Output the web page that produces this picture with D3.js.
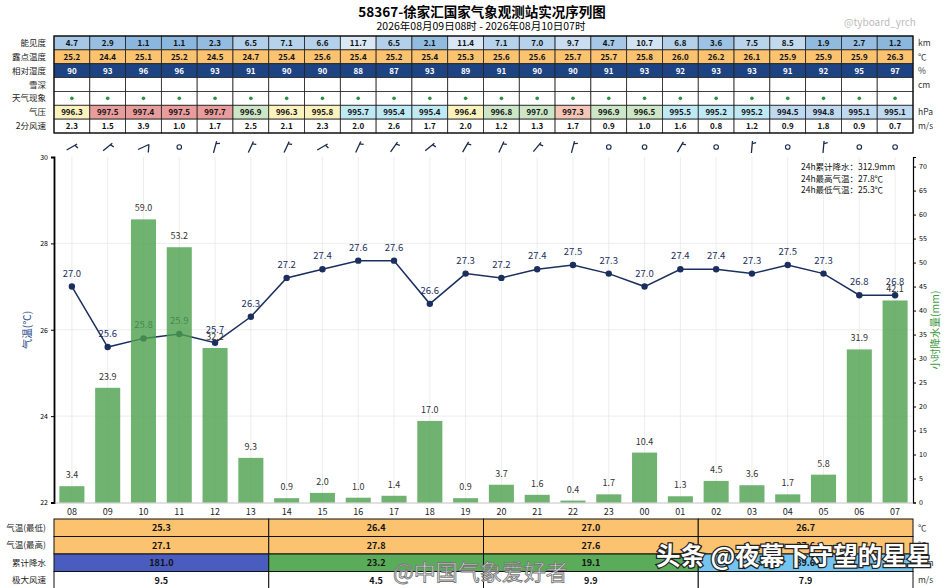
<!DOCTYPE html>
<html>
<head>
<meta charset="utf-8">
<script src="https://cdn.jsdelivr.net/npm/d3@7"></script>
<style>
  body { margin: 0; background: #fff; }
  text { font-family: "Noto Sans CJK SC", "Noto Sans", sans-serif; }
</style>
</head>
<body>
<svg id="chart" width="946" height="588"></svg>
<script>
// hourly observations, 2026-08-09 08h .. 2026-08-10 07h
const hours = ['08','09','10','11','12','13','14','15','16','17','18','19',
               '20','21','22','23','00','01','02','03','04','05','06','07']
const temp = [27.0,25.6,25.8,25.9,25.7,26.3,27.2,27.4,27.6,27.6,26.6,27.3,
              27.2,27.4,27.5,27.3,27.0,27.4,27.4,27.3,27.5,27.3,26.8,26.8]
const rain = [3.4,23.9,59.0,53.2,32.2,9.3,0.9,2.0,1.0,1.4,17.0,0.9,
              3.7,1.6,0.4,1.7,10.4,1.3,4.5,3.6,1.7,5.8,31.9,42.1]
const vis = [4.7,2.9,1.1,1.1,2.3,6.5,7.1,6.6,11.7,6.5,2.1,11.4,
             7.1,7.0,9.7,4.7,10.7,6.8,3.6,7.5,8.5,1.9,2.7,1.2]
const dew = [25.2,24.4,25.1,25.2,24.5,24.7,25.4,25.6,25.4,25.2,25.4,25.3,
             25.6,25.6,25.7,25.7,25.8,26.0,26.2,26.1,25.9,25.9,25.9,26.3]
const rh = [90,93,96,96,93,91,90,90,88,87,93,89,91,90,90,91,93,92,93,93,91,92,95,97]
const pres = [996.3,997.5,997.4,997.5,997.7,996.9,996.3,995.8,995.7,995.4,995.4,996.4,
              996.8,997.0,997.3,996.9,996.5,995.5,995.2,995.2,994.5,994.8,995.1,995.1]
const wind2 = [2.3,1.5,3.9,1.0,1.7,2.5,2.1,2.3,2.0,2.6,1.7,2.0,
               1.2,1.3,1.7,0.9,1.0,1.6,0.8,1.2,0.9,1.8,0.9,0.7]
const windDir = [60,50,65,0,15,25,25,60,25,35,50,30,25,40,15,0,0,30,0,5,0,5,0,0]

// 6-hour summaries
const groupMin = [25.3,26.4,27.0,26.7]
const groupMax = [27.1,27.8,27.6,27.6]
const groupRain = [181.0,23.2,19.1,89.6]
const groupGust = [9.5,4.5,9.9,7.9]

const svg = d3.select('#chart')
const pl = 54, pr = 913, pt = 157, pb = 502.5

let x = d3.scaleBand().domain(hours).range([pl, pr])
let bw = x.bandwidth()
let cx = (h) => x(h) + bw / 2
let yT = d3.scaleLinear().domain([22, 30]).range([pb, pt])
let yR = d3.scaleLinear().domain([0, 72]).range([pb, pt])

// title
svg.append('text').attr('x', 482).attr('y', 17).attr('text-anchor', 'middle')
    .style('font-size', '13.5px').style('font-weight', 'bold').text('58367-徐家汇国家气象观测站实况序列图')
svg.append('text').attr('x', 481).attr('y', 30).attr('text-anchor', 'middle')
    .style('font-size', '10.5px').text('2026年08月09日08时 - 2026年08月10日07时')
svg.append('text').attr('x', 880).attr('y', 26).attr('text-anchor', 'middle')
    .style('font-size', '10px').style('fill', '#bbb').text('@tyboard_yrch')

// top table
let visColor = d3.scaleLinear().domain([1, 12]).range(['#8ab6dd', '#dce9f6']).clamp(true)
let presColor = d3.scaleThreshold().domain([995.2, 995.8, 996.5, 997.2, 997.4])
    .range(['#bfd9f1', '#bfe9f4', '#fbf2bd', '#cce6c6', '#f5c5b6', '#e89c9b'])
let rows = [
    {label: '能见度', unit: 'km', vals: vis, fill: visColor, text: (v) => v.toFixed(1), col: '#111'},
    {label: '露点温度', unit: '℃', vals: dew, fill: () => '#fbc26f', text: (v) => v.toFixed(1), col: '#111'},
    {label: '相对湿度', unit: '%', vals: rh, fill: () => '#1d4383', text: (v) => v, col: '#fff'},
    {label: '雪深', unit: 'cm', vals: hours.map(() => null), fill: () => '#fff', text: () => '', col: '#111'},
    {label: '天气现象', unit: '', vals: hours.map(() => null), fill: () => '#fff', text: () => '', col: '#111', dot: true},
    {label: '气压', unit: 'hPa', vals: pres, fill: presColor, text: (v) => v.toFixed(1), col: '#111'},
    {label: '2分风速', unit: 'm/s', vals: wind2, fill: () => '#fff', text: (v) => v.toFixed(1), col: '#111'}
]
let rowY = d3.scaleBand().domain(d3.range(rows.length)).range([36, 133])
let rh0 = rowY.bandwidth()

rows.forEach((r, ri) => {
    let g = svg.append('g')
    let y0 = rowY(ri)
    g.selectAll('rect').data(hours).join('rect')
        .attr('x', (h) => x(h)).attr('y', y0)
        .attr('width', bw).attr('height', rh0)
        .attr('fill', (h, i) => r.fill(r.vals[i]))
        .attr('stroke', '#222').attr('stroke-width', 0.8)
    g.selectAll('text.v').data(hours).join('text').attr('class', 'v')
        .attr('x', cx).attr('y', y0 + rh0 / 2 + 3)
        .attr('text-anchor', 'middle')
        .style('font-size', '8px').style('font-weight', 'bold').style('fill', r.col)
        .text((h, i) => r.vals[i] == null ? '' : r.text(r.vals[i]))
    if (r.dot) {
        g.selectAll('circle').data(hours).join('circle')
            .attr('cx', cx).attr('cy', y0 + rh0 / 2).attr('r', 1.8).attr('fill', '#2f8f45')
    }
    svg.append('text').attr('x', 46).attr('y', y0 + rh0 / 2 + 3).attr('text-anchor', 'end')
        .style('font-size', '8.5px').style('fill', '#222').text(r.label)
    svg.append('text').attr('x', 918).attr('y', y0 + rh0 / 2 + 3)
        .style('font-size', '8.5px').style('fill', '#333').text(r.unit)
})
svg.append('rect').attr('x', pl).attr('y', 36).attr('width', pr - pl).attr('height', 97)
    .attr('fill', 'none').attr('stroke', '#111').attr('stroke-width', 1.2)

// wind barbs
let barbY = 147, L = 12
let barbs = svg.append('g').attr('stroke', '#1b2a4a').attr('fill', 'none').attr('stroke-width', 1.3)
hours.forEach((h, i) => {
    let s = wind2[i]
    if (s <= 1.0) {
        barbs.append('circle').attr('cx', cx(h)).attr('cy', barbY).attr('r', 2.3).attr('stroke-width', 1.1)
        return
    }
    let n = Math.round(s / 2), full = Math.floor(n / 2), half = n % 2
    let g = barbs.append('g')
        .attr('transform', `translate(${cx(h)},${barbY}) rotate(${windDir[i]}) translate(0,${L / 2})`)
    g.append('line').attr('x1', 0).attr('y1', 0).attr('x2', 0).attr('y2', -L)
    let pos = -L
    for (let k = 0; k < full; k++) {
        g.append('line').attr('x1', 0).attr('y1', pos).attr('x2', 7).attr('y2', pos + 4)
        pos += 3
    }
    if (half) {
        if (full == 0) pos += 2.5
        g.append('line').attr('x1', 0).attr('y1', pos).attr('x2', 3.8).attr('y2', pos - 1.2)
    }
})

// grid
let grid = svg.append('g').attr('stroke', '#e8e8e8').attr('stroke-width', 0.8)
grid.selectAll('line.v').data(hours).join('line').attr('class', 'v')
    .attr('x1', cx).attr('x2', cx).attr('y1', pt).attr('y2', pb)
grid.selectAll('line.h').data([24, 26, 28]).join('line').attr('class', 'h')
    .attr('x1', pl).attr('x2', pr).attr('y1', yT).attr('y2', yT)

// temperature line
let line = d3.line().x((d, i) => cx(hours[i])).y((d) => yT(d))
svg.append('path').datum(temp).attr('d', line)
    .attr('fill', 'none').attr('stroke', '#1b2f5e').attr('stroke-width', 1.5)
svg.append('g').selectAll('circle').data(temp).join('circle')
    .attr('cx', (d, i) => cx(hours[i])).attr('cy', yT).attr('r', 3.2).attr('fill', '#1b2f5e')
svg.append('g').selectAll('text').data(temp).join('text')
    .attr('x', (d, i) => cx(hours[i])).attr('y', (d) => yT(d) - 10)
    .attr('text-anchor', 'middle').style('font-size', '9.5px').style('fill', '#1b2f5e')
    .text((d) => d.toFixed(1))

// rain bars (drawn over the line, semi-transparent)
let barW = bw * 0.7
svg.append('g').selectAll('rect').data(rain).join('rect')
    .attr('x', (d, i) => cx(hours[i]) - barW / 2).attr('y', yR)
    .attr('width', barW).attr('height', (d) => pb - yR(d))
    .attr('fill', '#4c9f4c').attr('opacity', 0.8)
svg.append('g').selectAll('text').data(rain).join('text')
    .attr('x', (d, i) => cx(hours[i])).attr('y', (d) => yR(d) - 8)
    .attr('text-anchor', 'middle').style('font-size', '9px').style('fill', '#333')
    .text((d) => d.toFixed(1))

// axes
let axL = svg.append('g').attr('transform', `translate(${pl},0)`)
    .call(d3.axisLeft(yT).tickValues([22, 24, 26, 28, 30]).tickSize(3).tickPadding(3))
axL.select('.domain').attr('stroke-width', 1.8)
axL.selectAll('text').style('font-size', '7px')
let axR = svg.append('g').attr('transform', `translate(${pr},0)`)
    .call(d3.axisRight(yR).tickValues(d3.range(0, 71, 5)).tickSize(3).tickPadding(3))
axR.select('.domain').attr('stroke-width', 1.2)
axR.selectAll('text').style('font-size', '7px')
let axB = svg.append('g').attr('transform', `translate(0,${pb})`)
    .call(d3.axisBottom(x).tickSize(0).tickPadding(6))
axB.select('.domain').attr('stroke', '#999').attr('stroke-width', 0.6)
axB.selectAll('text').style('font-size', '9px').style('fill', '#222')

svg.append('text').attr('transform', 'translate(31,330) rotate(-90)').attr('text-anchor', 'middle')
    .style('font-size', '10.5px').style('fill', '#2b4a8c').text('气温(℃)')
svg.append('text').attr('transform', 'translate(939,330) rotate(-90)').attr('text-anchor', 'middle')
    .style('font-size', '10.5px').style('fill', '#3f9a3f').text('小时降水量(mm)')

// summary box
let info = ['24h累计降水：' + d3.sum(rain).toFixed(1) + 'mm',
            '24h最高气温：27.8℃', '24h最低气温：25.3℃']
svg.append('g').selectAll('text').data(info).join('text')
    .attr('x', 801).attr('y', (d, i) => 170 + i * 11.5)
    .style('font-size', '8.5px').style('fill', '#111').text((d) => d)

// bottom table (6-hour groups)
let groups = d3.range(4)
let gx = d3.scaleBand().domain(groups).range([pl, pr])
let rainColor = d3.scaleThreshold().domain([50, 100]).range(['#5aab5a', '#73c5ef', '#4a5dbe'])
let brows = [
    {label: '气温(最低)', unit: '℃', vals: groupMin, fill: () => '#fbc26f'},
    {label: '气温(最高)', unit: '℃', vals: groupMax, fill: () => '#fbc26f'},
    {label: '累计降水', unit: 'mm', vals: groupRain, fill: rainColor},
    {label: '极大风速', unit: 'm/s', vals: groupGust, fill: () => '#fff'}
]
let by = d3.scaleBand().domain(d3.range(brows.length)).range([519, 589])
brows.forEach((r, ri) => {
    let y0 = by(ri), hh = by.bandwidth()
    let g = svg.append('g')
    g.selectAll('rect').data(groups).join('rect')
        .attr('x', gx).attr('y', y0).attr('width', gx.bandwidth()).attr('height', hh)
        .attr('fill', (d) => r.fill(r.vals[d])).attr('stroke', '#111').attr('stroke-width', 1)
    g.selectAll('text').data(groups).join('text')
        .attr('x', (d) => gx(d) + gx.bandwidth() / 2).attr('y', y0 + hh / 2 + 3.5)
        .attr('text-anchor', 'middle').style('font-size', '9px').style('font-weight', 'bold')
        .style('fill', '#111').text((d) => r.vals[d].toFixed(1))
    svg.append('text').attr('x', 46).attr('y', y0 + hh / 2 + 3).attr('text-anchor', 'end')
        .style('font-size', '8.5px').style('fill', '#222').text(r.label)
    svg.append('text').attr('x', 918).attr('y', y0 + hh / 2 + 3)
        .style('font-size', '8.5px').style('fill', '#333').text(r.unit)
})

// reposted-image watermarks
svg.append('text').attr('x', 393).attr('y', 580)
    .style('font-size', '22px').style('fill', '#fff').style('fill-opacity', 0.8)
    .style('stroke', '#777').style('stroke-width', 0.9).text('@中国气象爱好者')
svg.append('text').attr('x', 656).attr('y', 565)
    .style('font-size', '24.5px').style('font-weight', 'bold').style('fill', '#fff')
    .style('stroke', '#222').style('stroke-width', 2.5).style('paint-order', 'stroke')
    .text('头条 @夜幕下守望的星星')
</script>
</body>
</html>
